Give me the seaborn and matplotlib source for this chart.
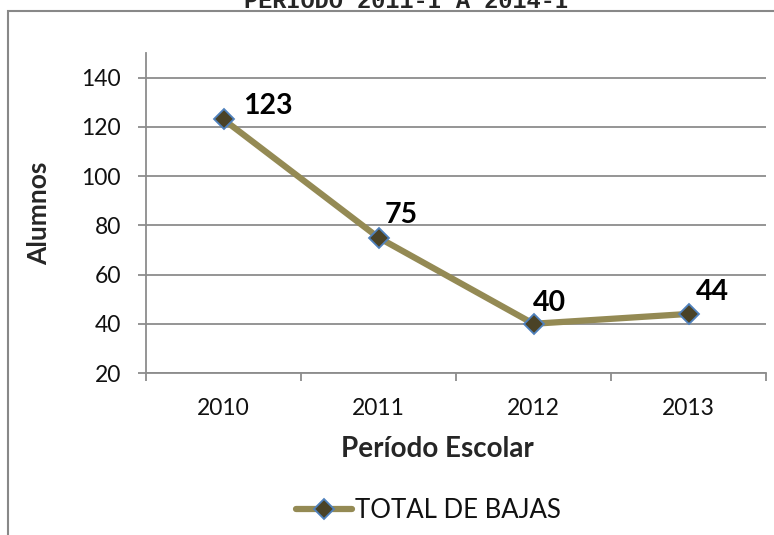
import matplotlib
matplotlib.use("Agg")
import matplotlib.pyplot as plt
import seaborn as sns
import pandas as pd
from matplotlib.patches import Rectangle
from matplotlib.ticker import FixedLocator

# ---- data ----
periods = ["2010", "2011", "2012", "2013"]
total_bajas = [123, 75, 40, 44]
series_name = "TOTAL DE BAJAS"
y_ticks = [20, 40, 60, 80, 100, 120, 140]
title_text = "PERIODO 2011-I A 2014-I"

df = pd.DataFrame({"periodo": periods, "bajas": total_bajas})
df["x"] = range(len(df))

sns.set_theme(style="white")
plt.rcParams["font.family"] = ["Lato", "DejaVu Sans"]

fig = plt.figure(figsize=(7.74, 5.35), dpi=100)
ax = fig.add_axes([146 / 774, 1 - 373 / 535, 620 / 774, 320 / 535])

line_color = "#948A54"
sns.lineplot(data=df, x="x", y="bajas", ax=ax, color=line_color, linewidth=4.5,
             marker="D", markersize=10, markerfacecolor="#4A4226",
             markeredgecolor="#4F81BD", markeredgewidth=1.3, label=series_name,
             solid_capstyle="round")

ax.set_xlim(-0.5, len(periods) - 0.5)
ax.set_ylim(20, 150)
ax.set_yticks(y_ticks)
ax.set_xticks(range(len(periods)))
ax.set_xticklabels(periods)
ax.xaxis.set_minor_locator(FixedLocator([i - 0.5 for i in range(len(periods) + 1)]))

grid_c = "#8C8C8C"
ax.grid(axis="y", color=grid_c, linewidth=1.3)
ax.grid(axis="x", visible=False)
ax.set_axisbelow(True)
for s in ["top", "right"]:
    ax.spines[s].set_visible(False)
for s in ["left", "bottom"]:
    ax.spines[s].set_color(grid_c)
    ax.spines[s].set_linewidth(1.3)

ax.tick_params(axis="y", which="major", direction="out", length=6, width=1.3,
               color=grid_c, left=True, labelsize=16.5, pad=12, labelcolor="#111111")
ax.tick_params(axis="x", which="major", length=0, labelsize=16.5, pad=18,
               labelcolor="#111111")
ax.tick_params(axis="x", which="minor", direction="out", length=6, width=1.3,
               color=grid_c, bottom=True)

ax.set_xlabel("Período Escolar", fontsize=20, fontweight="bold", labelpad=12)
ax.xaxis.label.set_x(0.47)
ax.set_ylabel("Alumnos", fontsize=19, fontweight="bold", labelpad=22)

# data labels
offsets = [(20, 13), (6, 23), (-1, 21), (7, 22)]
for xi, yv, (dx, dy) in zip(df["x"], df["bajas"], offsets):
    ax.annotate(str(yv), (xi, yv), xytext=(dx, dy), textcoords="offset pixels",
                ha="left", va="center", fontsize=20.5, fontweight="bold",
                color="black")

leg = ax.legend(loc="center", bbox_to_anchor=(0.455, -0.43), frameon=False,
                fontsize=18.5, handlelength=2.2, handletextpad=0.1,
                borderaxespad=0)
for t in leg.get_texts():
    t.set_color("#111111")

# outer chart frame
fig.patches.append(Rectangle((8 / 774, -0.2), 1.2, 1.2 - 11 / 535,
                             transform=fig.transFigure, fill=False,
                             edgecolor="#888888", linewidth=1.5))

# cut-off title at top
fig.text(406 / 774, 1 - 8 / 535, title_text, ha="center", va="baseline",
         fontsize=17, fontweight="bold", family=["Liberation Mono", "DejaVu Sans Mono"])

fig.savefig("out.png", dpi=100)
